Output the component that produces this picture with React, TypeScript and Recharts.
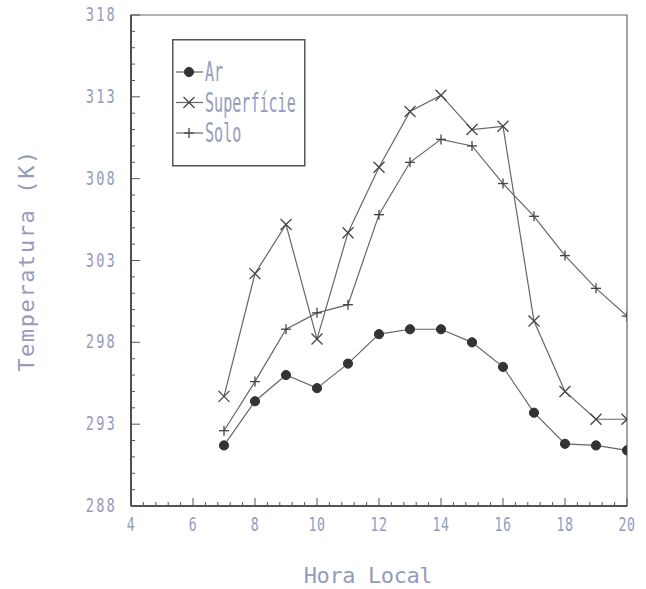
import { LineChart, Line, XAxis, YAxis, Legend, ReferenceArea, Label } from 'recharts';

const hours = [7, 8, 9, 10, 11, 12, 13, 14, 15, 16, 17, 18, 19, 20];
const ar = [291.7, 294.4, 296.0, 295.2, 296.7, 298.5, 298.8, 298.8, 298.0, 296.5, 293.7, 291.8, 291.7, 291.4];
const superficie = [294.7, 302.2, 305.2, 298.2, 304.7, 308.7, 312.1, 313.1, 311.0, 311.2, 299.3, 295.0, 293.3, 293.3];
const solo = [292.6, 295.6, 298.8, 299.8, 300.3, 305.8, 309.0, 310.4, 310.0, 307.7, 305.7, 303.3, 301.3, 299.6];

const seriesNames = ['Ar', 'Superfície', 'Solo'];
const xMajor = [4, 6, 8, 10, 12, 14, 16, 18, 20];
const yMajor = [288, 293, 298, 303, 308, 313, 318];

// minor ticks: every 0.4 h on x, every 1 K on y
const xTicks = Array.from({ length: 41 }, (_, i) => +(4 + i * 0.4).toFixed(1));
const yTicks = Array.from({ length: 31 }, (_, i) => 288 + i);

const data = hours.map((h, i) => ({ hora: h, ar: ar[i], superficie: superficie[i], solo: solo[i] }));

const TEXT = '#959bbd';
const LINE = '#666';
const FONT = '"DejaVu Sans Mono", monospace';

const XTick = (props: any) => {
  const { x, y, payload } = props;
  const v = payload.value;
  const major = xMajor.some(m => Math.abs(m - v) < 1e-6);
  return (
    <g>
      <line x1={x} y1={y} x2={x} y2={y - (major ? 8 : 4)} stroke="#555" strokeWidth={1} />
      {major && (
        <text transform={`translate(${x},${y + 25}) scale(0.66,1)`} textAnchor="middle" fontSize={20} letterSpacing={1} fontFamily={FONT} fill={TEXT}>
          {Math.round(v)}
        </text>
      )}
    </g>
  );
};

const YTick = (props: any) => {
  const { x, y, payload } = props;
  const v = payload.value;
  const major = yMajor.includes(v);
  return (
    <g>
      <line x1={x} y1={y} x2={x + (major ? 9 : 4)} y2={y} stroke="#555" strokeWidth={1} />
      {major && (
        <text transform={`translate(${x - 14},${y + 6}) scale(0.72,1)`} textAnchor="end" fontSize={19} letterSpacing={3} fontFamily={FONT} fill={TEXT}>
          {v}
        </text>
      )}
    </g>
  );
};

const CircleDot = (props: any) => (
  <circle key={`c${props.index}`} cx={props.cx} cy={props.cy} r={4.6} fill="#333" stroke="#333" />
);

const XDot = (props: any) => {
  const { cx, cy } = props;
  const s = 5.5;
  return (
    <g key={`x${props.index}`}>
      <line x1={cx - s} y1={cy - s} x2={cx + s} y2={cy + s} stroke="#444" strokeWidth={1.3} />
      <line x1={cx - s} y1={cy + s} x2={cx + s} y2={cy - s} stroke="#444" strokeWidth={1.3} />
    </g>
  );
};

const PlusDot = (props: any) => {
  const { cx, cy } = props;
  const s = 5;
  return (
    <g key={`p${props.index}`}>
      <line x1={cx - s} y1={cy} x2={cx + s} y2={cy} stroke="#444" strokeWidth={1.3} />
      <line x1={cx} y1={cy - s} x2={cx} y2={cy + s} stroke="#444" strokeWidth={1.3} />
    </g>
  );
};

const markers = [CircleDot, XDot, PlusDot];

const renderLegend = () => (
  <svg width={134} height={128} style={{ display: 'block' }}>
    <rect x={0.75} y={0.75} width={132} height={126} fill="#fff" stroke="#555" strokeWidth={1.5} />
    {seriesNames.map((name, i) => {
      const y = 33 + i * 30.5;
      const M = markers[i];
      return (
        <g key={name}>
          <line x1={4} y1={y} x2={31} y2={y} stroke={LINE} strokeWidth={1.2} />
          {M({ cx: 17, cy: y, index: i })}
          <text transform={`translate(33,${y + 9}) scale(0.58,1)`} fontSize={26} fontFamily={FONT} fill={TEXT}>
            {name}
          </text>
        </g>
      );
    })}
  </svg>
);

export default function App() {
  return (
    <div style={{ position: 'absolute', left: 0, top: 0, background: '#fff' }}>
      <LineChart width={646} height={589} data={data} margin={{ top: 15, right: 19, bottom: 0, left: 0 }}>
        <XAxis
          dataKey="hora"
          type="number"
          domain={[4, 20]}
          ticks={xTicks}
          interval={0}
          allowDataOverflow
          height={83}
          tickSize={0}
          tickMargin={0}
          tickLine={false}
          tick={<XTick />}
          axisLine={{ stroke: '#333', strokeWidth: 1.5 }}
        >
          <Label
            content={(p: any) => {
              const vb = p.viewBox;
              return (
                <text x={vb.x + vb.width / 2 - 11} y={vb.y + 77} textAnchor="middle" fontSize={22} letterSpacing={-0.4} fontFamily={FONT} fill={TEXT}>
                  Hora Local
                </text>
              );
            }}
          />
        </XAxis>
        <YAxis
          type="number"
          domain={[288, 318]}
          ticks={yTicks}
          interval={0}
          allowDataOverflow
          width={131}
          tickSize={0}
          tickMargin={0}
          tickLine={false}
          tick={<YTick />}
          axisLine={{ stroke: '#333', strokeWidth: 1.5 }}
        >
          <Label
            content={(p: any) => {
              const vb = p.viewBox;
              const cy = vb.y + vb.height / 2;
              return (
                <text transform={`translate(34,${cy}) rotate(-90)`} textAnchor="middle" fontSize={22} letterSpacing={1.6} fontFamily={FONT} fill={TEXT}>
                  Temperatura (K)
                </text>
              );
            }}
          />
        </YAxis>
        <ReferenceArea x1={4} x2={20} y1={288} y2={318} fill="none" stroke="#666" strokeWidth={1.2} />
        <Line dataKey="ar" name={seriesNames[0]} stroke={LINE} strokeWidth={1.2} dot={CircleDot} isAnimationActive={false} />
        <Line dataKey="superficie" name={seriesNames[1]} stroke={LINE} strokeWidth={1.2} dot={XDot} isAnimationActive={false} />
        <Line dataKey="solo" name={seriesNames[2]} stroke={LINE} strokeWidth={1.2} dot={PlusDot} isAnimationActive={false} />
        <Legend
          layout="vertical"
          align="center"
          verticalAlign="middle"
          content={renderLegend}
          wrapperStyle={{ top: 39, left: 172, width: 134, height: 128 }}
        />
      </LineChart>
    </div>
  );
}
